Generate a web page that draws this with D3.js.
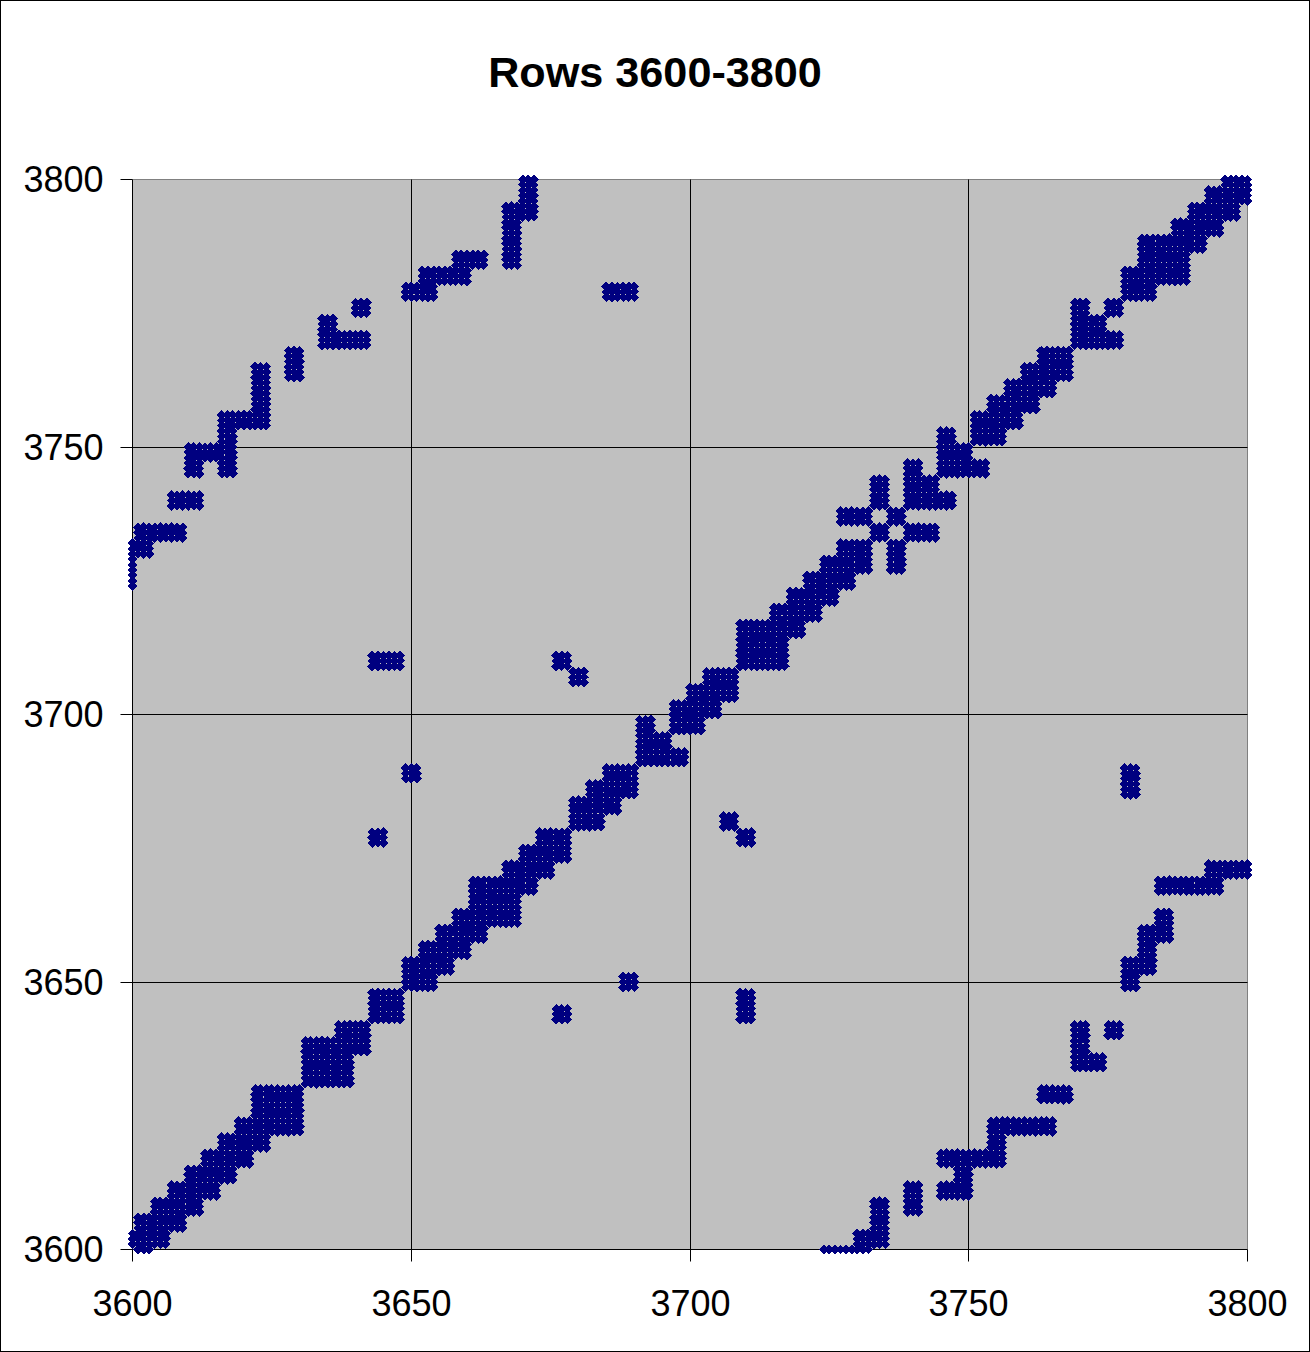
<!DOCTYPE html>
<html>
<head>
<meta charset="utf-8">
<script src="https://cdnjs.cloudflare.com/ajax/libs/d3/7.8.5/d3.min.js"></script>
<style>
html,body{margin:0;padding:0;background:#fff}
svg{display:block}
text{font-family:"Liberation Sans",Arial,sans-serif;fill:#000}
</style>
</head>
<body>
<svg id="chart" width="1310" height="1352"></svg>
<script>
// Chart text and axis values
const titleText = "Rows 3600-3800";
const tickValues = [3600, 3650, 3700, 3750, 3800];
const domainMin = 3600, domainMax = 3800;
const dofsPerNode = 3;

// Every group of 3 rows/columns is named by its first index (offset from 3600).
const diagonalNodes = [1,4,7,10,13,16,19,22,25,28,31,34,37,40,43,46,49,52,55,58,61,64,67,70,73,76,79,82,85,88,91,94,97,100,103,106,109,112,115,118,121,124,127,130,133,136,139,142,145,148,151,154,157,160,163,166,169,172,175,178,181,184,187,190,193,196,199];

// Links next to the main diagonal [node A, node B]
const bandLinks = [
  [-2,1],[1,4],[4,7],[7,10],[10,13],[13,16],[16,19],[19,22],
  [22,25],[22,28],[25,28],[31,34],[31,37],[34,37],[37,40],[43,46],
  [49,52],[52,55],[55,58],[58,61],[61,64],[61,67],[64,67],[67,70],[70,73],[73,76],
  [79,82],[82,85],[85,88],[91,94],[91,97],[97,100],[100,103],[103,106],
  [109,112],[109,115],[112,115],[115,118],[118,121],[121,124],[124,127],[127,130],
  [127,136],[130,136],[133,139],[133,142],[139,142],[139,145],[145,148],[145,151],
  [151,154],[154,157],[157,160],[160,163],[163,166],[169,172],[169,175],
  [178,181],[181,184],[181,187],[184,187],[187,190],[190,193],[193,196],[196,199]
];

// Far off-diagonal links, top-left band and its mirror at bottom-right
const farLinks = [
  [-2,124],[-2,127],[-2,130],[1,130],[1,133],[4,133],[7,133],[7,139],[10,139],
  [10,145],[10,148],[13,148],[16,145],[16,148],[16,151],[16,154],[19,154],
  [22,154],[22,157],[22,160],[22,163],[28,163],[28,166],[34,169],[34,172],
  [37,169],[40,169],[40,175],[49,178],[52,178],[52,181],[55,181],[58,181],
  [58,184],[61,184],[67,184],[67,187],[67,190],[67,193],[70,193],[70,196],[70,199]
];

// Isolated links between the bands
const isolatedLinks = [
  [43,109],[46,109],[76,109],[79,106],[49,88],[43,76],[85,178],[88,178]
];

const x = d3.scaleLinear().domain([domainMin, domainMax]).range([132.5, 1247.5]);
const y = d3.scaleLinear().domain([domainMin, domainMax]).range([1249.5, 179.5]);
const snap = v => Math.floor(v) + 0.5;

// Expand node links into matrix entries
function entries() {
  const seen = new Set(), out = [];
  function add(a, b) {
    for (let i = 0; i < dofsPerNode; i++) for (let j = 0; j < dofsPerNode; j++) {
      const c = domainMin + a + i, r = domainMin + b + j;
      if (c < domainMin || c > domainMax || r < domainMin || r > domainMax) continue;
      const k = c + "," + r;
      if (!seen.has(k)) { seen.add(k); out.push([c, r]); }
    }
  }
  diagonalNodes.forEach(n => add(n, n));
  bandLinks.concat(farLinks, isolatedLinks).forEach(([a, b]) => { add(a, b); add(b, a); });
  return out;
}

const svg = d3.select("#chart");
svg.append("rect").attr("x",0.5).attr("y",0.5).attr("width",1309).attr("height",1351)
  .attr("fill","#fff").attr("stroke","#000");

const xL = x(domainMin), xR = x(domainMax), yB = y(domainMin), yT = y(domainMax);

// Plot area
svg.append("rect").attr("x",xL).attr("y",yT).attr("width",xR-xL).attr("height",yB-yT)
  .attr("fill","#c0c0c0");

// Grey top/right frame
svg.append("path").attr("d",`M${xL},${yT}H${xR}V${yB}`)
  .attr("fill","none").attr("stroke","#808080").attr("stroke-width",1);

// Gridlines
const inner = tickValues.filter(t => t > domainMin && t < domainMax);
svg.append("g").selectAll("line").data(inner).join("line")
  .attr("x1",d=>snap(x(d))).attr("x2",d=>snap(x(d)))
  .attr("y1",yT).attr("y2",yB).attr("stroke","#000");
svg.append("g").selectAll("line").data(inner).join("line")
  .attr("x1",xL).attr("x2",xR)
  .attr("y1",d=>snap(y(d))).attr("y2",d=>snap(y(d))).attr("stroke","#000");

// Axes
const xAxis = d3.axisBottom(x).tickValues(tickValues).tickFormat(d3.format("d"))
  .tickSizeInner(12).tickSizeOuter(0).tickPadding(29).offset(0);
const yAxis = d3.axisLeft(y).tickValues(tickValues).tickFormat(d3.format("d"))
  .tickSizeInner(12).tickSizeOuter(0).tickPadding(17).offset(0);
const gx = svg.append("g").attr("transform",`translate(0,${yB})`).call(xAxis);
const gy = svg.append("g").attr("transform",`translate(${xL},0)`).call(yAxis);
gx.selectAll(".tick").attr("transform",d=>`translate(${snap(x(d))},0)`);
gy.selectAll(".tick").attr("transform",d=>`translate(0,${snap(y(d))})`);
gy.selectAll("text").attr("dy","0.36em");
[gx,gy].forEach(g=>{
  g.selectAll("text").style("font-family",'"Liberation Sans",Arial,sans-serif').style("font-size","36px").attr("fill","#000");
  g.selectAll("path,line").attr("stroke","#000");
});

// Markers
const r = 4.9;
const diamond = `M0,${-r}L${r},0L0,${r}L${-r},0Z`;
svg.append("g").attr("fill","#000080").attr("shape-rendering","crispEdges")
  .selectAll("path").data(entries()).join("path")
  .attr("d",diamond)
  .attr("transform",d=>`translate(${x(d[0])},${y(d[1])})`);

// Title
svg.append("text").attr("x",655).attr("y",87).attr("text-anchor","middle")
  .style("font-size","43.2px").style("font-weight","bold").text(titleText);
</script>
</body>
</html>
